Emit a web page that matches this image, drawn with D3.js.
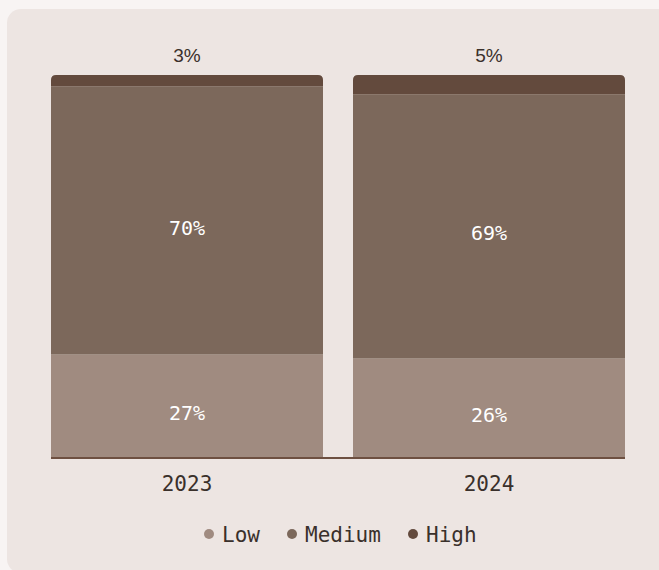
<!DOCTYPE html>
<html>
<head>
<meta charset="utf-8">
<script src="https://cdn.jsdelivr.net/npm/d3@7"></script>
<style>
  html, body { margin: 0; padding: 0; background: #f8f4f3; }
  svg { display: block; }
</style>
</head>
<body>
<svg id="chart" width="659" height="570"></svg>
<script>
// Share of ratings per year (percent)
const years = ["2023", "2024"];
const levels = ["Low", "Medium", "High"];
const low = [27, 26];
const medium = [70, 69];
const high = [3, 5];

const colors = { Low: "#a08b80", Medium: "#7c685b", High: "#634a3d" };
const mono = "'DejaVu Sans Mono', 'Liberation Mono', monospace";
const sans = "'Liberation Sans', Arial, sans-serif";

const svg = d3.select("#chart");

// card
svg.append("rect")
  .attr("x", 7).attr("y", 9)
  .attr("width", 700).attr("height", 564)
  .attr("rx", 14)
  .attr("fill", "#ede5e2");

const rows = years.map((y, i) => ({ year: y, Low: low[i], Medium: medium[i], High: high[i] }));
const series = d3.stack().keys(levels)(rows);

const x = d3.scaleBand().domain(years).range([51, 625]).paddingInner(30 / 302).paddingOuter(0);
const yScale = d3.scaleLinear().domain([0, 100]).range([458, 75]);

// rect with rounded top corners only
function topRounded(x0, y0, w, h, r) {
  return `M${x0},${y0 + h}V${y0 + r}Q${x0},${y0} ${x0 + r},${y0}H${x0 + w - r}Q${x0 + w},${y0} ${x0 + w},${y0 + r}V${y0 + h}Z`;
}

const layers = svg.append("g").selectAll("g")
  .data(series)
  .join("g")
  .attr("fill", d => colors[d.key]);

layers.selectAll("path")
  .data(d => d.map(v => ({ key: d.key, v })))
  .join("path")
  .attr("d", d => {
    const x0 = x(d.v.data.year);
    const y0 = yScale(d.v[1]);
    const h = yScale(d.v[0]) - yScale(d.v[1]);
    const r = d.key === "High" ? 5 : 0;
    return topRounded(x0, y0, x.bandwidth(), h, r);
  });

// value labels inside Low and Medium segments
series.filter(s => s.key !== "High").forEach(s => {
  svg.append("g").selectAll("text")
    .data(s)
    .join("text")
    .attr("x", d => x(d.data.year) + x.bandwidth() / 2)
    .attr("y", d => (yScale(d[0]) + yScale(d[1])) / 2 + 14)
    .attr("text-anchor", "middle")
    .attr("fill", "#ffffff")
    .attr("font-family", mono)
    .attr("font-size", 20)
    .text(d => d.data[s.key] + "%");
});

// High labels above the bars
const highSeries = series.find(s => s.key === "High");
svg.append("g").selectAll("text")
  .data(highSeries)
  .join("text")
  .attr("x", d => x(d.data.year) + x.bandwidth() / 2)
  .attr("y", d => yScale(d[1]) - 13)
  .attr("text-anchor", "middle")
  .attr("fill", "#3a302b")
  .attr("font-family", sans)
  .attr("font-size", 19)
  .text(d => d.data.High + "%");

// x axis
const axis = svg.append("g")
  .attr("transform", `translate(0,${yScale(0)})`)
  .call(d3.axisBottom(x).tickSize(0).tickPadding(18));
axis.select(".domain").attr("stroke", "#6e5041").attr("stroke-width", 2)
  .attr("d", `M${x.range()[0]},0H${x.range()[1]}`);
axis.selectAll(".tick text")
  .attr("fill", "#3a302b")
  .attr("font-family", mono)
  .attr("font-size", 21);

// legend
const legendItems = [
  { key: "Low", cx: 209 },
  { key: "Medium", cx: 292 },
  { key: "High", cx: 413 }
];
const legend = svg.append("g").selectAll("g")
  .data(legendItems)
  .join("g")
  .attr("transform", d => `translate(${d.cx},534)`);
legend.append("circle").attr("r", 5).attr("fill", d => colors[d.key]);
legend.append("text")
  .attr("x", 13)
  .attr("y", 8)
  .attr("fill", "#3a302b")
  .attr("font-family", mono)
  .attr("font-size", 21)
  .text(d => d.key);
</script>
</body>
</html>
